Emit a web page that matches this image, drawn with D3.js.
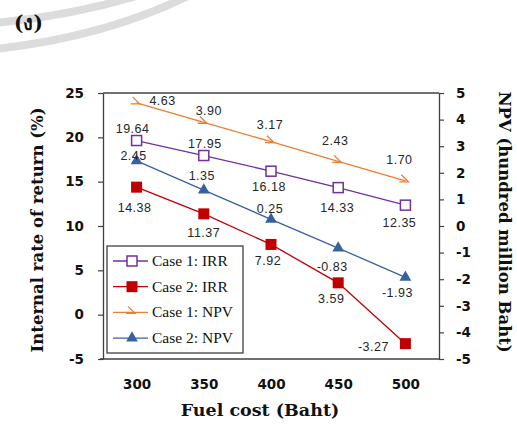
<!DOCTYPE html>
<html>
<head>
<meta charset="utf-8">
<script src="https://cdn.jsdelivr.net/npm/d3@7"></script>
<style>
  html, body { margin: 0; padding: 0; background: #fff; }
  svg { display: block; }
</style>
</head>
<body>
<svg id="chart" width="517" height="424"></svg>
<script>
// ---- data ----
const fuelCost = ["300", "350", "400", "450", "500"];
const irrCase1 = [19.64, 17.95, 16.18, 14.33, 12.35];
const irrCase2 = [14.38, 11.37, 7.92, 3.59, -3.27];
const npvCase1 = [4.63, 3.90, 3.17, 2.43, 1.70];
const npvCase2 = [2.45, 1.35, 0.25, -0.83, -1.93];
const irrTicks = [-5, 0, 5, 10, 15, 20, 25];
const npvTicks = [-5, -4, -3, -2, -1, 0, 1, 2, 3, 4, 5];

// value label placement (dx, dy from the point)
const irr1LabelOff = [[-4, -8], [1, -8], [-2, 20], [-1, 24], [-6, 22]];
const irr2LabelOff = [[-2, 25], [0, 23], [-3, 21], [-7, 20.5], [-32, 7]];
const npv1LabelOff = [[26, 2], [5, -7], [-1, -12.5], [-3, -16], [-6, -17]];
const npv2LabelOff = [[-3, -1], [-2, -10], [-1, -6], [-6, 22.5], [-8, 20]];

const svg = d3.select("#chart");

// faint decorative bands in the upper-left corner
const deco = svg.append("g").attr("fill", "none").attr("stroke", "#dcdcdc").attr("stroke-width", 8);
deco.append("path").attr("d", "M-5,23 Q70,16 140,-5");
deco.append("path").attr("d", "M-5,49 Q105,37 190,-5");

svg.append("text")
  .attr("x", 14).attr("y", 30)
  .attr("font-family", "'DejaVu Serif', 'Liberation Serif', serif")
  .attr("font-weight", "bold").attr("font-size", 20)
  .attr("fill", "#111")
  .text("(ง)");

const plotLeft = 103, plotRight = 439, plotTop = 93, plotBottom = 359;

const x = d3.scalePoint().domain(fuelCost).range([plotLeft, plotRight]).padding(0.5);
const yL = d3.scaleLinear().domain([-5, 25]).range([plotBottom, plotTop]);
const yR = d3.scaleLinear().domain([-5, 5]).range([plotBottom, plotTop]);

const tickFont = "'DejaVu Sans', sans-serif";
const plainNumber = d => String(d);

// plot frame (top and bottom)
svg.append("line").attr("x1", plotLeft).attr("x2", plotRight).attr("y1", plotTop).attr("y2", plotTop)
  .attr("stroke", "#404040").attr("stroke-width", 1.3);
svg.append("line").attr("x1", plotLeft - 3).attr("x2", plotRight).attr("y1", plotBottom).attr("y2", plotBottom)
  .attr("stroke", "#404040").attr("stroke-width", 1.3);

// left axis
const gL = svg.append("g").attr("transform", `translate(${plotLeft},0)`)
  .call(d3.axisLeft(yL).tickValues(irrTicks).tickFormat(plainNumber)
    .tickSize(5).tickSizeOuter(0).tickPadding(14));
gL.select(".domain").attr("stroke", "#404040").attr("stroke-width", 1.3);
gL.selectAll(".tick line").attr("stroke", "#404040").attr("stroke-width", 1.2);
gL.selectAll(".tick text").attr("font-family", tickFont).attr("font-weight", "bold")
  .attr("font-size", 13.5).attr("fill", "#111");

// right axis
const gR = svg.append("g").attr("transform", `translate(${plotRight},0)`)
  .call(d3.axisRight(yR).tickValues(npvTicks).tickFormat(plainNumber)
    .tickSize(5).tickSizeOuter(0).tickPadding(12));
gR.select(".domain").attr("stroke", "#404040").attr("stroke-width", 1.3);
gR.selectAll(".tick line").attr("stroke", "#404040").attr("stroke-width", 1.2);
gR.selectAll(".tick text").attr("font-family", tickFont).attr("font-weight", "bold")
  .attr("font-size", 13.5).attr("fill", "#111");

// bottom axis (labels only)
const gX = svg.append("g").attr("transform", `translate(0,${plotBottom})`)
  .call(d3.axisBottom(x).tickSize(0).tickPadding(20));
gX.select(".domain").remove();
gX.selectAll(".tick text").attr("font-family", tickFont).attr("font-weight", "bold")
  .attr("font-size", 13.5).attr("fill", "#111");

// axis titles
const titleFont = "'DejaVu Serif', 'Liberation Serif', serif";
svg.append("text")
  .attr("x", 260).attr("y", 416)
  .attr("text-anchor", "middle")
  .attr("font-family", titleFont).attr("font-weight", "bold").attr("font-size", 17.5)
  .attr("fill", "#111")
  .text("Fuel cost (Baht)");
svg.append("text")
  .attr("transform", "translate(43,230) rotate(-90)")
  .attr("text-anchor", "middle")
  .attr("font-family", titleFont).attr("font-weight", "bold").attr("font-size", 16.5)
  .attr("fill", "#111")
  .text("Internal rate of return (%)");
svg.append("text")
  .attr("transform", "translate(499,222) rotate(90)")
  .attr("text-anchor", "middle")
  .attr("font-family", titleFont).attr("font-weight", "bold").attr("font-size", 16.5)
  .attr("fill", "#111")
  .text("NPV (hundred million Baht)");

// ---- series ----
const series = [
  { name: "Case 1: IRR", values: irrCase1, y: yL, color: "#7030A0", marker: "openSquare", off: irr1LabelOff },
  { name: "Case 2: IRR", values: irrCase2, y: yL, color: "#C00000", marker: "square", off: irr2LabelOff },
  { name: "Case 1: NPV", values: npvCase1, y: yR, color: "#ED7D31", marker: "hook", off: npv1LabelOff },
  { name: "Case 2: NPV", values: npvCase2, y: yR, color: "#36629F", marker: "triangle", off: npv2LabelOff }
];

function drawMarker(g, type, color) {
  if (type === "openSquare") {
    g.append("rect").attr("x", -5).attr("y", -5).attr("width", 10).attr("height", 10)
      .attr("fill", "#fff").attr("stroke", color).attr("stroke-width", 1.5);
  } else if (type === "square") {
    g.append("rect").attr("x", -5.5).attr("y", -5.5).attr("width", 11).attr("height", 11)
      .attr("fill", color);
  } else if (type === "triangle") {
    g.append("path").attr("d", d3.symbol().type(d3.symbolTriangle).size(60)())
      .attr("fill", color);
  } else if (type === "hook") {
    g.append("path").attr("d", "M-4,-6 L3,1 L-6,1")
      .attr("fill", "none").attr("stroke", color).attr("stroke-width", 1.3);
  }
}

const line = d3.line();
const labelFont = "'Liberation Sans', Arial, sans-serif";

series.forEach(s => {
  const pts = s.values.map((v, i) => [x(fuelCost[i]), s.y(v)]);
  svg.append("path").attr("d", line(pts))
    .attr("fill", "none").attr("stroke", s.color).attr("stroke-width", 1.3);
  pts.forEach(p => {
    const g = svg.append("g").attr("transform", `translate(${p[0]},${p[1]})`);
    drawMarker(g, s.marker, s.color);
  });
  s.values.forEach((v, i) => {
    svg.append("text")
      .attr("x", pts[i][0] + s.off[i][0]).attr("y", pts[i][1] + s.off[i][1])
      .attr("text-anchor", "middle")
      .attr("font-family", labelFont).attr("font-size", 12.5)
      .attr("letter-spacing", 0.5)
      .attr("fill", "#262626")
      .text(v.toFixed(2));
  });
});

// ---- legend ----
const lg = svg.append("g").attr("transform", "translate(107,246)");
lg.append("rect").attr("width", 136).attr("height", 107)
  .attr("fill", "#fff").attr("stroke", "#404040").attr("stroke-width", 1.3);
series.forEach((s, i) => {
  const cy = 15 + i * 25.7;
  lg.append("line").attr("x1", 6).attr("x2", 41).attr("y1", cy).attr("y2", cy)
    .attr("stroke", s.color).attr("stroke-width", 1.3);
  drawMarker(lg.append("g").attr("transform", `translate(25,${cy})`), s.marker, s.color);
  lg.append("text").attr("x", 45).attr("y", cy + 5)
    .attr("font-family", "'Liberation Serif', 'Times New Roman', serif")
    .attr("font-size", 15.5).attr("fill", "#111")
    .text(s.name);
});
</script>
</body>
</html>
